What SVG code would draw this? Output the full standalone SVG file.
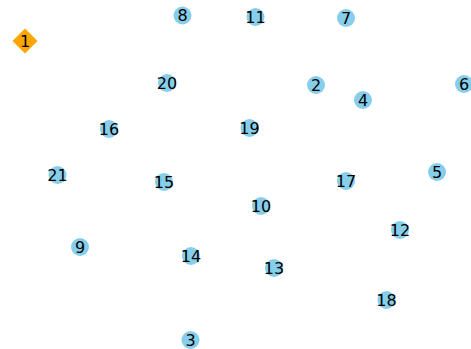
<svg xmlns="http://www.w3.org/2000/svg" width="471" height="349" viewBox="0 0 471 349">
<style>
.n{fill:#87CEEB}
.d{fill:#FFA500}
text{font-family:"DejaVu Sans",sans-serif;font-size:16px;fill:#000;text-anchor:middle;dominant-baseline:central}
</style>
<rect width="471" height="349" fill="#fff"/>
<g id="edges"></g>
<g id="node1"><polygon class="d" points="25,28.5 37.5,41 25,53.5 12.5,41"/><text x="25" y="41">1</text></g>
<g id="node2"><circle class="n" cx="316" cy="85" r="9"/><text x="316" y="85">2</text></g>
<g id="node3"><circle class="n" cx="190.5" cy="340" r="9"/><text x="190.5" y="340">3</text></g>
<g id="node4"><circle class="n" cx="363" cy="100" r="9"/><text x="363" y="100">4</text></g>
<g id="node5"><circle class="n" cx="437" cy="172" r="9"/><text x="437" y="172">5</text></g>
<g id="node6"><circle class="n" cx="464" cy="84" r="9"/><text x="464" y="84">6</text></g>
<g id="node7"><circle class="n" cx="346" cy="18" r="9"/><text x="346" y="18">7</text></g>
<g id="node8"><circle class="n" cx="182.5" cy="15.5" r="9"/><text x="182.5" y="15.5">8</text></g>
<g id="node9"><circle class="n" cx="80" cy="247" r="9"/><text x="80" y="247">9</text></g>
<g id="node10"><circle class="n" cx="261" cy="206" r="9"/><text x="261" y="206">10</text></g>
<g id="node11"><circle class="n" cx="255.5" cy="17" r="9"/><text x="255.5" y="17">11</text></g>
<g id="node12"><circle class="n" cx="400" cy="230" r="9"/><text x="400" y="230">12</text></g>
<g id="node13"><circle class="n" cx="274" cy="268" r="9"/><text x="274" y="268">13</text></g>
<g id="node14"><circle class="n" cx="191" cy="256" r="9"/><text x="191" y="256">14</text></g>
<g id="node15"><circle class="n" cx="164" cy="182" r="9"/><text x="164" y="182">15</text></g>
<g id="node16"><circle class="n" cx="109" cy="129" r="9"/><text x="109" y="129">16</text></g>
<g id="node17"><circle class="n" cx="346" cy="181" r="9"/><text x="346" y="181">17</text></g>
<g id="node18"><circle class="n" cx="386.5" cy="300" r="9"/><text x="386.5" y="300">18</text></g>
<g id="node19"><circle class="n" cx="249.5" cy="128" r="9"/><text x="249.5" y="128">19</text></g>
<g id="node20"><circle class="n" cx="167" cy="83" r="9"/><text x="167" y="83">20</text></g>
<g id="node21"><circle class="n" cx="57.5" cy="175" r="9"/><text x="57.5" y="175">21</text></g>
</svg>
